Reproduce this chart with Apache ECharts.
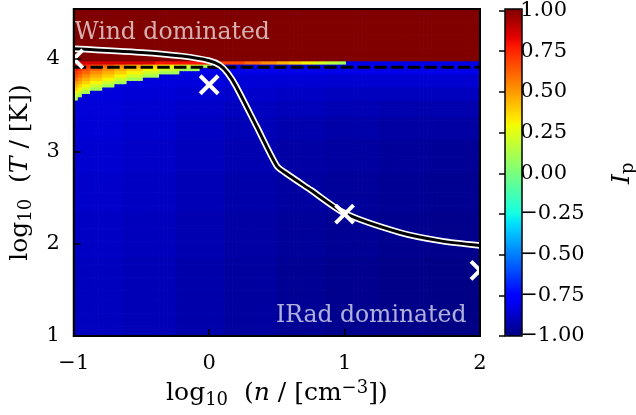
<!DOCTYPE html>
<html>
<head>
<meta charset="utf-8">
<script src="https://cdn.jsdelivr.net/npm/echarts@6/dist/echarts.min.js"></script>
<style>
  html, body { margin: 0; padding: 0; background: #fff; }
  #chart { width: 636px; height: 415px; }
</style>
</head>
<body>
<div id="chart"></div>
<script>
// ---- grid of the I_p map: 100 density columns x 100 temperature rows ----
const NX = 100, NY = 100;
const X_MIN = -1, X_MAX = 2, Y_MIN = 1, Y_MAX = 4.54;
const DX = (X_MAX - X_MIN) / NX, DY = (Y_MAX - Y_MIN) / NY;

// rows are counted from the top (highest T) downward
const windRows = 16; // rows 0..15: I_p = 1 everywhere

// row 16 along n: [first column, I_p]; null hands the cell to the IRad field
const topRowSteps = [[0, 0.85], [20, 0.78], [34, 0.68], [42, 0.6], [46, 0.52], [50, 0.44],
                     [53, 0.37], [56, 0.3], [59, 0.23], [62, 0.16], [65, 0.1], [67, null]];

// lowest mixed row of the low-density wedge, per column
const wedgeBottomRow = [27, 26, 25, 25, 24, 24, 24, 23, 23, 23, 22, 22, 22, 21, 21, 21, 21,
                        20, 20, 20, 20, 19, 19, 19, 19, 19, 18, 18, 18, 18, 18, 17, 17, 17];
// I_p of wedge cells counted from the wedge edge upward
const wedgeRamp = [0.1, 0.2, 0.3, 0.38, 0.45, 0.52, 0.6, 0.66, 0.72, 0.78, 0.84, 0.9];

// IRad-dominated field: row bands x column bands
const iradRowEdges = [17, 20, 24, 28, 33, 40, 50, 62, 76, 100];
const iradColEdges = [0, 12, 25, 37, 50, 62, 75, 87, 100];
const iradLevels = [
  [-0.82, -0.82, -0.82, -0.82, -0.82, -0.82, -0.82, -0.82],
  [-0.83, -0.835, -0.84, -0.85, -0.855, -0.86, -0.86, -0.86],
  [-0.84, -0.85, -0.86, -0.87, -0.88, -0.89, -0.89, -0.89],
  [-0.845, -0.86, -0.875, -0.89, -0.90, -0.91, -0.92, -0.92],
  [-0.85, -0.865, -0.885, -0.905, -0.92, -0.93, -0.94, -0.94],
  [-0.86, -0.875, -0.895, -0.915, -0.935, -0.945, -0.955, -0.96],
  [-0.87, -0.885, -0.905, -0.925, -0.945, -0.955, -0.965, -0.97],
  [-0.88, -0.895, -0.915, -0.935, -0.955, -0.965, -0.975, -0.98],
  [-0.89, -0.905, -0.925, -0.945, -0.965, -0.975, -0.985, -0.99]
];

// wind / IRad balance curve
const curveLogN = [-1, -0.5, -0.2, 0, 0.08, 0.14, 0.2, 0.35, 0.5, 0.56, 0.75, 1, 1.41, 1.71, 2];
const curveLogT = [4.11, 4.07, 4.03, 3.98, 3.93, 3.84, 3.7, 3.27, 2.84, 2.77, 2.58, 2.33, 2.12, 2.03, 1.98];

// dashed reference temperature
const dashLogT = 3.91;

// cross markers
const crossLogN = [-1, 0, 1, 2];
const crossLogT = [4.0, 3.72, 2.32, 1.71];

// axis ticks
const xTicks = [-1, 0, 1, 2];
const yTicks = [1, 2, 3, 4];
const cbarMin = -1, cbarMax = 1, cbarStep = 0.25;

// ---- jet colour map ----
function seg(pts, t) {
  for (let i = 1; i < pts.length; i++) {
    if (t <= pts[i][0]) {
      const [x0, y0] = pts[i - 1], [x1, y1] = pts[i];
      return y0 + (y1 - y0) * (t - x0) / (x1 - x0);
    }
  }
  return pts[pts.length - 1][1];
}
function jet(t) {
  const r = seg([[0, 0], [0.35, 0], [0.66, 1], [0.89, 1], [1, 0.5]], t);
  const g = seg([[0, 0], [0.125, 0], [0.375, 1], [0.64, 1], [0.91, 0], [1, 0]], t);
  const b = seg([[0, 0.5], [0.11, 1], [0.34, 1], [0.65, 0], [1, 0]], t);
  const h = v => Math.round(v * 255).toString(16).padStart(2, '0');
  return '#' + h(r) + h(g) + h(b);
}
const jetColors = Array.from({ length: 129 }, (_, i) => jet(i / 128));

// ---- assemble cells: [left log n, top log T, I_p] ----
function stepValue(steps, c) {
  let v = steps[0][1];
  for (const [c0, val] of steps) if (c >= c0) v = val;
  return v;
}
function bandIndex(edges, k) {
  for (let i = 0; i < edges.length - 1; i++) if (k < edges[i + 1]) return i;
  return edges.length - 2;
}
function iradValue(c, r) {
  return iradLevels[bandIndex(iradRowEdges, Math.max(r, iradRowEdges[0]))][bandIndex(iradColEdges, c)];
}
const cells = [];
for (let c = 0; c < NX; c++) {
  for (let r = 0; r < NY; r++) {
    let v;
    if (r < windRows) v = 1;
    else if (r === windRows) {
      v = stepValue(topRowSteps, c);
      if (v === null) v = iradValue(c, r);
    } else if (c < wedgeBottomRow.length && r <= wedgeBottomRow[c]) {
      const k = wedgeBottomRow[c] - r;
      v = wedgeRamp[Math.min(k, wedgeRamp.length - 1)];
    } else v = iradValue(c, r);
    cells.push([X_MIN + c * DX, Y_MAX - r * DY, v]);
  }
}

const curveData = curveLogN.map((x, i) => [x, curveLogT[i]]);
const crossData = crossLogN.map((x, i) => [x, crossLogT[i]]);

const FONT = 'DejaVu Serif';
const FS = 21;
const NFS = 25;
const minus = v => String(v).replace('-', '\u2212');
const richName = {
  a: { fontFamily: FONT, fontSize: NFS, color: '#000', lineHeight: 30 },
  i: { fontFamily: FONT, fontSize: NFS, fontStyle: 'italic', color: '#000', lineHeight: 30 },
  s: { fontFamily: FONT, fontSize: 18, color: '#000', lineHeight: 18, verticalAlign: 'bottom' },
  p: { fontFamily: FONT, fontSize: 18, color: '#000', lineHeight: 18, verticalAlign: 'top' }
};

const G = { left: 72, top: 9, width: 408, height: 327 };
const CB = { left: 505, top: 9, width: 17, height: 327 };

const chart = echarts.init(document.getElementById('chart'), null, { renderer: 'canvas' });
chart.setOption({
  animation: false,
  backgroundColor: '#fff',
  grid: [
    Object.assign({ show: true, borderColor: '#000', borderWidth: 2, backgroundColor: 'transparent', z: 10 }, G),
    Object.assign({ show: false }, CB)
  ],
  // colour-bar outline
  graphic: [{
    type: 'rect', z: 100, silent: true,
    shape: { x: CB.left, y: CB.top, width: CB.width, height: CB.height },
    style: { fill: 'none', stroke: '#000', lineWidth: 1.5 }
  }],
  xAxis: [
    {
      type: 'value', gridIndex: 0, min: X_MIN, max: X_MAX, interval: 1, position: 'bottom', z: 10,
      axisLine: { show: true, onZero: false, lineStyle: { color: '#000', width: 2 } },
      axisTick: { show: true, inside: true, length: 7, lineStyle: { color: '#000', width: 1.5 } },
      splitLine: { show: false },
      axisLabel: { margin: 17, fontFamily: FONT, fontSize: FS, color: '#000',
                   formatter: v => xTicks.includes(v) ? minus(v) : '' },
      name: '{a|log}{s|10}{a|  (}{i|n}{a| / [cm}{p|\u22123}{a|])}',
      nameLocation: 'middle', nameGap: 41,
      nameTextStyle: { rich: richName }
    },
    { type: 'value', gridIndex: 1, min: 0, max: 1, show: false }
  ],
  yAxis: [
    {
      type: 'value', gridIndex: 0, min: Y_MIN, max: Y_MAX, interval: 1, position: 'left', z: 10,
      axisLine: { show: true, onZero: false, lineStyle: { color: '#000', width: 2 } },
      axisTick: { show: true, inside: true, length: 7, lineStyle: { color: '#000', width: 1.5 } },
      splitLine: { show: false },
      axisLabel: { margin: 14, fontFamily: FONT, fontSize: FS, color: '#000', showMaxLabel: false,
                   formatter: v => yTicks.includes(v) ? minus(v) : '' },
      name: '{a|log}{s|10}{a|  (}{i|T}{a| / [K])}',
      nameLocation: 'middle', nameGap: 34, nameRotate: 90,
      nameTextStyle: { rich: richName }
    },
    {
      type: 'value', gridIndex: 1, min: cbarMin, max: cbarMax, interval: cbarStep, position: 'right', z: 100,
      axisLine: { show: false },
      axisTick: { show: true, inside: true, length: 6, lineStyle: { color: '#000', width: 1.5 } },
      splitLine: { show: false },
      axisLabel: { margin: 11, fontFamily: FONT, fontSize: FS, color: '#000',
                   formatter: v => minus(v.toFixed(2)) },
      name: '{i|I}{s|p}',
      nameLocation: 'middle', nameGap: 98, nameRotate: 90,
      nameTextStyle: { rich: richName }
    }
  ],
  visualMap: {
    type: 'continuous', min: cbarMin, max: cbarMax, seriesIndex: 0, dimension: 2,
    calculable: false, show: true, orient: 'vertical', padding: 0,
    left: CB.left, top: CB.top, itemWidth: CB.width, itemHeight: CB.height,
    text: null, hoverLink: false,
    inRange: { color: jetColors }
  },
  series: [
    {
      // I_p map cells, drawn through the value axes
      type: 'custom', xAxisIndex: 0, yAxisIndex: 0, data: cells, clip: true, z: 2, silent: true,
      progressive: 0,
      renderItem(params, api) {
        const x0 = api.value(0), y0 = api.value(1);
        const p0 = api.coord([x0, y0]);
        const p1 = api.coord([x0 + DX, y0 - DY]);
        return {
          type: 'rect',
          shape: { x: p0[0], y: p0[1], width: p1[0] - p0[0] + 0.7, height: p1[1] - p0[1] + 0.7 },
          style: { fill: api.visual('color') }
        };
      }
    },
    {
      type: 'line', xAxisIndex: 0, yAxisIndex: 0, data: [[X_MIN, dashLogT], [X_MAX, dashLogT]],
      symbol: 'none', silent: true, z: 3,
      lineStyle: { color: '#000', width: 3, type: [12.5, 4.2] }
    },
    {
      type: 'line', xAxisIndex: 0, yAxisIndex: 0, data: curveData, smooth: 0.25,
      symbol: 'none', silent: true, z: 4, lineStyle: { color: '#fff', width: 6.5 }
    },
    {
      type: 'line', xAxisIndex: 0, yAxisIndex: 0, data: curveData, smooth: 0.25,
      symbol: 'none', silent: true, z: 4, lineStyle: { color: '#000', width: 3 }
    },
    {
      type: 'custom', xAxisIndex: 0, yAxisIndex: 0, data: crossData, clip: true, z: 5, silent: true,
      renderItem(params, api) {
        const p = api.coord([api.value(0), api.value(1)]);
        const h = 9;
        const st = { stroke: '#fff', lineWidth: 4 };
        return {
          type: 'group', children: [
            { type: 'line', shape: { x1: p[0] - h, y1: p[1] - h, x2: p[0] + h, y2: p[1] + h }, style: st },
            { type: 'line', shape: { x1: p[0] - h, y1: p[1] + h, x2: p[0] + h, y2: p[1] - h }, style: st }
          ]
        };
      }
    },
    {
      type: 'scatter', xAxisIndex: 0, yAxisIndex: 0, symbolSize: 0, clip: false, silent: true, z: 6,
      data: [
        { value: [-0.995, 4.28], label: { position: 'right', formatter: 'Wind dominated' } },
        { value: [1.9, 1.22], label: { position: 'left', formatter: 'IRad dominated' } }
      ],
      label: { show: true, distance: 0, fontFamily: FONT, fontSize: 23.5, color: 'rgba(255,255,255,0.86)' }
    }
  ]
});
</script>
</body>
</html>
